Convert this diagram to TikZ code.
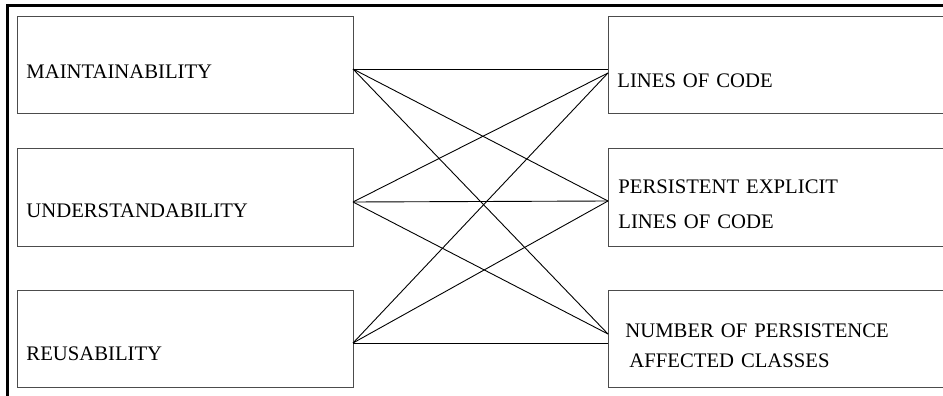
\documentclass[tikz,border=0pt]{standalone}
\usepackage{fontspec}
\setmainfont{Liberation Serif}

\begin{document}
\begin{tikzpicture}[x=1pt, y=-1pt, line width=0.9pt,
  box/.style={draw=black!70, anchor=north west, inner xsep=9pt, inner ysep=0pt,
    text width=318pt, align=left, font=\fontsize{20.7}{30}\selectfont},
  wide/.style={box, text width=340pt}]
  \useasboundingbox (0,0) rectangle (943,396);
  \clip (0,0) rectangle (943,396);

  % outer frame (open to the right and bottom)
  \draw[line width=3pt] (7,397) -- (7,6) -- (944,6);

  % quality attributes
  \node[box, text height=62pt, text depth=35pt] (m) at (17,16) {MAINTAINABILITY};
  \node[box, text height=69pt, text depth=29pt] (u) at (17,148) {UNDERSTANDABILITY};
  \node[box, text height=70pt, text depth=27pt] (r) at (17,290) {REUSABILITY};

  % metrics
  \node[wide, text height=71pt, text depth=26pt] (loc) at (608,16) {LINES OF CODE};
  \node[wide, text height=45pt, text depth=53pt, inner xsep=10pt,
    font=\fontsize{20.7}{35}\selectfont] (peloc) at (608,148)
    {PERSISTENT EXPLICIT\\LINES OF CODE};
  \node[wide, text height=47pt, text depth=50pt, inner xsep=17pt] (npac) at (608,290)
    {NUMBER OF PERSISTENCE\\\hspace*{4pt}AFFECTED CLASSES};

  % ports
  \coordinate (mp) at (353,69);
  \coordinate (up) at (353,202);
  \coordinate (rp) at (353,343);
  \coordinate (locp) at (608,73);
  \coordinate (pelocp) at (608,201);
  \coordinate (npacp) at (608,334);

  % every attribute to every metric
  \draw (mp) -- (mp -| loc.west);
  \draw (rp) -- (rp -| npac.west);
  \foreach \a/\b in {mp/pelocp, mp/npacp, up/locp, up/pelocp, up/npacp, rp/locp, rp/pelocp} {
    \draw (\a) -- (\b);
  }
\end{tikzpicture}
\end{document}
